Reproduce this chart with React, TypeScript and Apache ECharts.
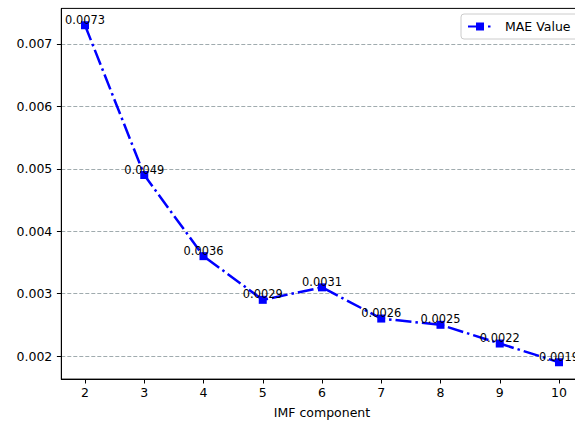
import React, { useEffect, useRef } from "react";
import * as echarts from "echarts";

// IMF component count and mean absolute error for each decomposition
const components = [2, 3, 4, 5, 6, 7, 8, 9, 10];
const maeValues = [0.0073, 0.0049, 0.0036, 0.0029, 0.0031, 0.0026, 0.0025, 0.0022, 0.0019];
const yTicks = [0.002, 0.003, 0.004, 0.005, 0.006, 0.007];

const FONT = "DejaVu Sans";
// the drawing surface runs past the visible frame on the right, so the
// right spine and the tail of the last label fall outside the view
const CANVAS_W = 600;

export default function App() {
  const ref = useRef<HTMLDivElement>(null);

  useEffect(() => {
    if (!ref.current) return;
    const chart = echarts.init(ref.current, undefined, { renderer: "svg" });
    const gridColor = "#a0abae";

    chart.setOption({
      animation: false,
      textStyle: { fontFamily: FONT },
      grid: {
        left: 61.3,
        top: 8.4,
        right: CANVAS_W - 582.7,
        height: 370.7,
        outerBoundsMode: "none",
        containLabel: false,
        show: true,
        borderColor: "#000",
        borderWidth: 1,
        backgroundColor: "#fff",
      },
      legend: {
        left: 461,
        top: 14,
        padding: [6, 24, 6, 6],
        itemWidth: 24,
        itemHeight: 10,
        itemGap: 0,
        backgroundColor: "#fff",
        borderColor: "#cccccc",
        borderWidth: 1,
        borderRadius: 3,
        textStyle: { fontFamily: FONT, fontSize: 12.5, color: "#000", padding: [0, 0, 0, 8] },
        data: ["MAE Value"],
      },
      xAxis: {
        type: "value",
        min: 1.6,
        max: 10.4,
        name: "IMF component",
        nameLocation: "middle",
        nameGap: 27,
        nameTextStyle: { fontFamily: FONT, fontSize: 12.5, color: "#000" },
        axisLine: { show: true, onZero: false, lineStyle: { color: "#000", width: 1 } },
        axisTick: {
          show: true,
          length: 4.4,
          lineStyle: { color: "#000", width: 1 },
          customValues: components,
        },
        axisLabel: {
          fontFamily: FONT,
          fontSize: 12.5,
          color: "#000",
          margin: 7,
          customValues: components,
          formatter: (v: number) => String(v),
        },
        splitLine: { show: false },
      },
      yAxis: {
        type: "value",
        min: 0.00163,
        max: 0.00757,
        axisLine: { show: true, lineStyle: { color: "#000", width: 1 } },
        axisTick: {
          show: true,
          length: 4.4,
          lineStyle: { color: "#000", width: 1 },
          customValues: yTicks,
        },
        axisLabel: {
          fontFamily: FONT,
          fontSize: 12.5,
          color: "#000",
          margin: 9,
          customValues: yTicks,
          formatter: (v: number) => v.toFixed(3),
        },
        splitLine: {
          show: true,
          lineStyle: { color: gridColor, width: 1, type: [4, 2] },
        },
      },
      series: [
        {
          name: "MAE Value",
          type: "line",
          data: components.map((c, i) => [c, maeValues[i]]),
          symbol: "rect",
          symbolSize: 8,
          itemStyle: { color: "#0000ff" },
          lineStyle: { color: "#0000ff", width: 2.5, type: [16, 4, 2.5, 4] },
          label: {
            show: true,
            position: "top",
            distance: -4,
            fontFamily: FONT,
            fontSize: 11.4,
            color: "#000",
            formatter: (p: any) => p.value[1].toFixed(4),
          },
          z: 3,
        },
      ],
    });

    return () => chart.dispose();
  }, []);

  return (
    <div
      style={{
        position: "fixed",
        left: 0,
        top: 0,
        width: 575,
        height: 421,
        overflow: "hidden",
        background: "#fff",
      }}
    >
      <div ref={ref} style={{ width: CANVAS_W, height: 421 }} />
    </div>
  );
}
